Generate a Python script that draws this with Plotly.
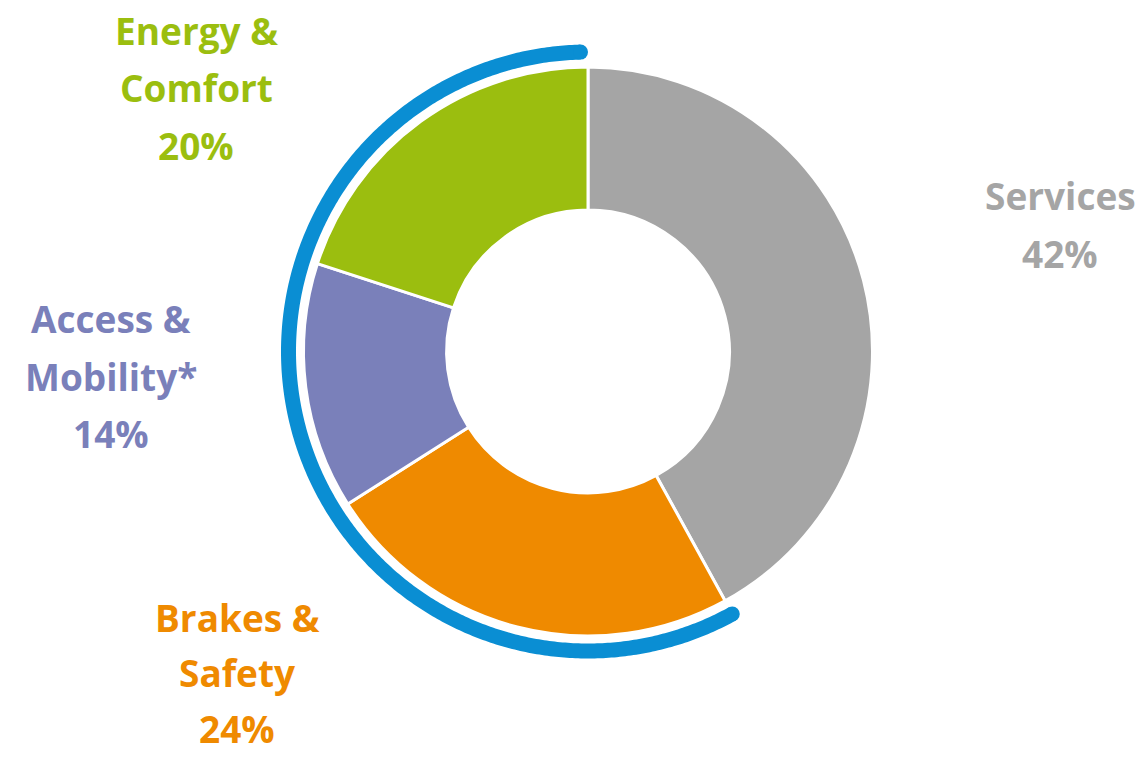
import numpy as np
import plotly.graph_objects as go

# ---- data ----
categories = ["Services", "Brakes & Safety", "Access & Mobility*", "Energy & Comfort"]
values = [42, 24, 14, 20]
colors = ["#A5A5A5", "#EF8A00", "#7A80BA", "#9BBE0F"]
label_lines = [["Services", "42%"], ["Brakes &", "Safety", "24%"],
               ["Access &", "Mobility*", "14%"], ["Energy &", "Comfort", "20%"]]
highlight_color = "#0A8ED3"

W, H = 1146, 757
cx, cy = 588, 351.5        # donut centre (px)
R = 284.5                  # outer radius (px)
ring_r = 299.5             # radius of highlight arc (px)
ring_w = 15

fig = go.Figure()

# donut
fig.add_trace(go.Pie(
    labels=categories, values=values, sort=False, direction="clockwise", rotation=0,
    hole=0.497, marker=dict(colors=colors, line=dict(color="white", width=3)),
    textinfo="none", hoverinfo="label+percent", showlegend=False,
    domain=dict(x=[(cx - R) / W, (cx + R) / W], y=[1 - (cy + R) / H, 1 - (cy - R) / H]),
))

# highlight arc covering all non-Services segments, computed from the values
total = sum(values)
start_frac = values[0] / total
cap = (ring_w / 2) / ring_r / (2 * np.pi)
fr = np.linspace(start_frac, 1 - cap, 400)
ang = fr * 2 * np.pi
ax_ = ring_r * np.sin(ang)
ay_ = ring_r * np.cos(ang)
fig.add_trace(go.Scatter(x=ax_, y=ay_, mode="lines",
                         line=dict(color=highlight_color, width=ring_w, simplify=False),
                         hoverinfo="skip", showlegend=False))
fig.add_trace(go.Scatter(x=[ax_[0], ax_[-1]], y=[ay_[0], ay_[-1]], mode="markers",
                         marker=dict(color=highlight_color, size=ring_w, line=dict(width=0)),
                         hoverinfo="skip", showlegend=False))

fig.update_xaxes(range=[-cx, W - cx], visible=False, fixedrange=True)
fig.update_yaxes(range=[-(H - cy), cy], visible=False, fixedrange=True)

# labels
label_pos = [(1060, 196), (237, 617), (111, 318), (196, 30)]
line_steps = [58, 55.5, 58, 58]
annotations = []
for lines, col, (lx, ly), step in zip(label_lines, colors, label_pos, line_steps):
    for i, t in enumerate(lines):
        annotations.append(dict(
            x=lx / W, y=1 - (ly + i * step) / H, xref="paper", yref="paper",
            text=f"<b>{t}</b>", showarrow=False, xanchor="center", yanchor="middle",
            borderpad=0,
            font=dict(family="Open Sans, sans-serif", size=37, color=col)))

fig.update_layout(
    width=W, height=H, margin=dict(l=0, r=0, t=0, b=0),
    paper_bgcolor="white", plot_bgcolor="rgba(0,0,0,0)",
    xaxis=dict(domain=[0, 1]), yaxis=dict(domain=[0, 1]),
    annotations=annotations,
)

fig.write_html("out.html")
